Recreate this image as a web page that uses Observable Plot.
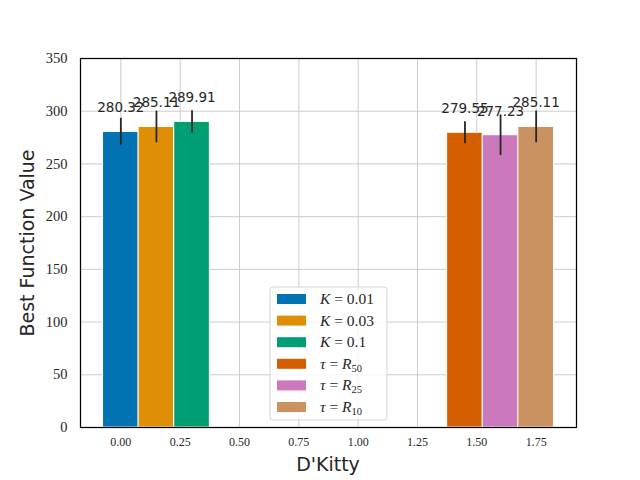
<!DOCTYPE html>
<html>
<head>
<meta charset="utf-8">
<script src="https://cdn.jsdelivr.net/npm/d3@7"></script>
<script src="https://cdn.jsdelivr.net/npm/@observablehq/plot@0.6"></script>
<style>
  html, body { margin: 0; padding: 0; background: #fff; }
  #chart { width: 640px; height: 480px; }
</style>
</head>
<body>
<div id="chart"></div>
<script>
const series = ["K = 0.01", "K = 0.03", "K = 0.1", "τ = R50", "τ = R25", "τ = R10"];
const positions = [0, 0.15, 0.3, 1.45, 1.6, 1.75];
const values = [280.32, 285.11, 289.91, 279.55, 277.23, 285.11];
const errors = [13, 15, 10.5, 10.4, 19.3, 15];
const colors = ["#0173B2", "#DE8F05", "#029E73", "#D55E00", "#CC78BC", "#CA9161"];
const xTicks = [0, 0.25, 0.5, 0.75, 1.0, 1.25, 1.5, 1.75];
const yTicks = [0, 50, 100, 150, 200, 250, 300, 350];
const barWidth = 0.15;

const data = series.map((s, i) => ({
  series: s, x: positions[i], value: values[i], err: errors[i], color: colors[i]
}));

const chart = Plot.plot({
  width: 640,
  height: 480,
  marginLeft: 80,
  marginRight: 64,
  marginTop: 58,
  marginBottom: 53,
  style: { background: "#fff", overflow: "visible" },
  x: { domain: [-0.17, 1.92], ticks: xTicks, label: null },
  y: { domain: [0, 350], ticks: yTicks, label: null },
  marks: [
    Plot.gridX(xTicks, { stroke: "#cccccc", strokeOpacity: 1, strokeWidth: 1 }),
    Plot.gridY(yTicks, { stroke: "#cccccc", strokeOpacity: 1, strokeWidth: 1 }),
    Plot.rectY(data, {
      x1: d => d.x - barWidth / 2,
      x2: d => d.x + barWidth / 2,
      y1: 0,
      y2: "value",
      fill: d => d.color,
      stroke: "#fff",
      strokeWidth: 1,
      inset: 0
    }),
    Plot.ruleX(data, {
      x: "x",
      y1: d => d.value - d.err,
      y2: d => d.value + d.err,
      stroke: "#262626",
      strokeWidth: 1.8
    }),
    Plot.text(data, {
      x: "x",
      y: "value",
      text: d => d.value.toFixed(2),
      dy: -24,
      fontSize: 13.5,
      fill: "#262626",
      fontFamily: "DejaVu Sans",
      textAnchor: "middle"
    }),
    Plot.frame({ stroke: "#000", strokeWidth: 1.25 }),
    Plot.axisX(xTicks, {
      tickSize: 0, tickPadding: 10,
      tickFormat: d => d.toFixed(2),
      fontFamily: "Liberation Serif", fontSize: 12, fill: "#262626",
      label: null
    }),
    Plot.axisY(yTicks, {
      tickSize: 0, tickPadding: 13,
      fontFamily: "Liberation Serif", fontSize: 14.5, fill: "#262626",
      label: null
    })
  ]
});

document.getElementById("chart").appendChild(chart);

// Axis titles and legend drawn into the Plot SVG
const svg = d3.select(chart);
svg.append("text")
  .attr("x", 328).attr("y", 471)
  .attr("text-anchor", "middle")
  .attr("font-family", "DejaVu Sans")
  .attr("font-size", 19)
  .attr("fill", "#262626")
  .text("D'Kitty");
svg.append("text")
  .attr("transform", "translate(34,243) rotate(-90)")
  .attr("text-anchor", "middle")
  .attr("font-family", "DejaVu Sans")
  .attr("font-size", 19)
  .attr("fill", "#262626")
  .text("Best Function Value");

const lg = svg.append("g").attr("transform", "translate(270,287)");
lg.append("rect")
  .attr("x", 0).attr("y", 0).attr("width", 117).attr("height", 133)
  .attr("rx", 3)
  .attr("fill", "#fff").attr("fill-opacity", 0.8)
  .attr("stroke", "#d5d5d5").attr("stroke-width", 1);
const legendLabels = [
  { a: "K", b: " = 0.01", sub: "" },
  { a: "K", b: " = 0.03", sub: "" },
  { a: "K", b: " = 0.1", sub: "" },
  { a: "τ", b: " = ", c: "R", sub: "50" },
  { a: "τ", b: " = ", c: "R", sub: "25" },
  { a: "τ", b: " = ", c: "R", sub: "10" }
];
legendLabels.forEach((l, i) => {
  const y = 12 + i * 21.6;
  lg.append("rect")
    .attr("x", 7).attr("y", y - 5).attr("width", 29).attr("height", 10)
    .attr("fill", colors[i]);
  const t = lg.append("text")
    .attr("x", 50).attr("y", y + 5)
    .attr("text-anchor", "start")
    .attr("font-family", "Liberation Serif")
    .attr("font-size", 15.5)
    .attr("fill", "#262626");
  t.append("tspan").attr("font-style", "italic").text(l.a);
  t.append("tspan").text(l.b);
  if (l.c) {
    t.append("tspan").attr("font-style", "italic").text(l.c);
    t.append("tspan").attr("font-size", 10.5).attr("dy", 3).text(l.sub);
  }
});
</script>
</body>
</html>
